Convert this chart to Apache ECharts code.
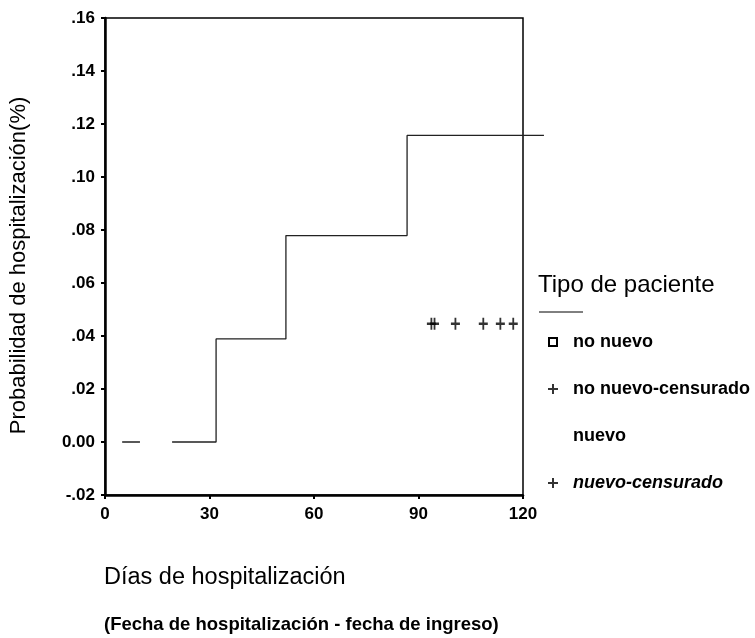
<!DOCTYPE html>
<html>
<head>
<meta charset="utf-8">
<script src="https://cdn.jsdelivr.net/npm/echarts@6/dist/echarts.min.js"></script>
<style>
html,body{margin:0;padding:0;background:#fff;}
#chart{width:755px;height:638px;}
</style>
</head>
<body>
<div id="chart"></div>
<script>
// Step curve (days, cumulative probability); null marks a gap in the printed line
const stepDays = [5.2, 10.3, 10.3, 19.5, 32.1, 52.1, 86.8, 126];
const stepProb = [0, 0, null, 0, 0.0389, 0.0779, 0.1157, 0.1157];
// Censored observations
const censDays = [93.7, 94.6, 100.6, 108.6, 113.5, 117.2];
const censProb = [0.0446, 0.0446, 0.0446, 0.0446, 0.0446, 0.0446];
// Axis ticks
const xTicks = [0, 30, 60, 90, 120];
const xLineEnd = 126;
const yMin = -0.02, yMax = 0.16, yStep = 0.02;
const legendNames = ['no nuevo', 'no nuevo-censurado', 'nuevo', 'nuevo-censurado'];

const FONT = '"Liberation Sans", Arial, sans-serif';
const plusPath = 'path://M4,0h2v4h4v2h-4v4h-2v-4h-4v-2h4z';
const squarePath = 'path://M0,0h10v10h-10z M2,2v6h6v-6z';

const gridLeft = 104, gridTop = 18, gridW = 419, gridH = 477;
const xMax = xTicks[xTicks.length - 1];

const chart = echarts.init(document.getElementById('chart'));
chart.setOption({
  animation: false,
  backgroundColor: '#fff',
  textStyle: { fontFamily: FONT, color: '#000' },
  title: [
    {
      text: 'Días de hospitalización',
      subtext: '(Fecha de hospitalización - fecha de ingreso)',
      left: 104, top: 565, padding: 0, itemGap: 24,
      textStyle: { fontFamily: FONT, fontSize: 23.5, fontWeight: 'normal', color: '#000', lineHeight: 26 },
      subtextStyle: { fontFamily: FONT, fontSize: 18.5, fontWeight: 'bold', color: '#000', lineHeight: 20 }
    },
    {
      text: 'Tipo de paciente',
      left: 538, top: 271, padding: 0,
      textStyle: { fontFamily: FONT, fontSize: 24, fontWeight: 'normal', color: '#000', lineHeight: 28 }
    }
  ],
  graphic: [
    { type: 'line', shape: { x1: 539, y1: 312, x2: 583, y2: 312 }, style: { stroke: '#000', lineWidth: 1 } }
  ],
  legend: {
    orient: 'vertical',
    left: 548, top: 333, padding: 0,
    itemWidth: 10, itemHeight: 10, itemGap: 29,
    selectedMode: false,
    textStyle: { fontFamily: FONT, fontSize: 18, fontWeight: 'bold', color: '#000', lineHeight: 18, padding: [0, 0, 0, 10] },
    data: [
      { name: legendNames[0], icon: squarePath, itemStyle: { color: '#000' } },
      { name: legendNames[1], icon: plusPath, itemStyle: { color: '#000' } },
      { name: legendNames[2], icon: 'rect', itemStyle: { opacity: 0 } },
      { name: legendNames[3], icon: plusPath, itemStyle: { color: '#000' }, textStyle: { fontStyle: 'italic' } }
    ]
  },
  grid: [
    { left: gridLeft, top: gridTop, width: gridW, height: gridH,
      show: true, borderColor: '#000', borderWidth: 1.5, backgroundColor: 'transparent' },
    { left: gridLeft, top: gridTop, width: gridW * xLineEnd / xMax, height: gridH, show: false }
  ],
  xAxis: [
    {
      gridIndex: 0, type: 'value', min: xTicks[0], max: xMax, interval: 30,
      axisLine: { show: true, onZero: false, lineStyle: { color: '#000', width: 2.5 } },
      axisTick: { show: true, length: 4, inside: false, lineStyle: { color: '#000', width: 2 } },
      axisLabel: { margin: 11, fontFamily: FONT, fontSize: 17, fontWeight: 'bold', color: '#000' },
      splitLine: { show: false }
    },
    { gridIndex: 1, type: 'value', min: xTicks[0], max: xLineEnd, show: false }
  ],
  yAxis: [
    {
      gridIndex: 0, type: 'value', min: yMin, max: yMax, interval: yStep,
      name: 'Probabilidad de hospitalización(%)',
      nameLocation: 'middle', nameGap: 75, nameRotate: 90,
      nameTextStyle: { fontFamily: FONT, fontSize: 22, color: '#000', padding: [0, 18, 0, 0] },
      axisLine: { show: true, onZero: false, lineStyle: { color: '#000', width: 2.5 } },
      axisTick: { show: true, length: 4, inside: false, lineStyle: { color: '#000', width: 2 } },
      axisLabel: {
        margin: 10, fontFamily: FONT, fontSize: 17, fontWeight: 'bold', color: '#000',
        formatter: function (v) {
          if (Math.abs(v) < 1e-9) return '0.00';
          const s = Math.abs(v).toFixed(2).replace(/^0/, '');
          return (v < 0 ? '-' : '') + s;
        }
      },
      splitLine: { show: false }
    },
    { gridIndex: 1, type: 'value', min: yMin, max: yMax, interval: yStep, show: false }
  ],
  series: [
    {
      name: legendNames[0], type: 'line', data: [], symbol: 'none',
      itemStyle: { color: '#000' }
    },
    {
      name: legendNames[1], type: 'scatter',
      data: censDays.map((d, i) => [d, censProb[i]]),
      symbol: plusPath, symbolSize: [9, 12],
      itemStyle: { color: '#000' }
    },
    {
      name: legendNames[2], type: 'line', step: 'end',
      xAxisIndex: 1, yAxisIndex: 1,
      data: stepDays.map((d, i) => [d, stepProb[i] === null ? '-' : stepProb[i]]),
      symbol: 'none', connectNulls: false,
      lineStyle: { color: '#222', width: 1.3 },
      itemStyle: { color: '#222' }
    },
    {
      name: legendNames[3], type: 'scatter', data: [], symbol: plusPath,
      itemStyle: { color: '#000' }
    }
  ]
});
</script>
</body>
</html>
